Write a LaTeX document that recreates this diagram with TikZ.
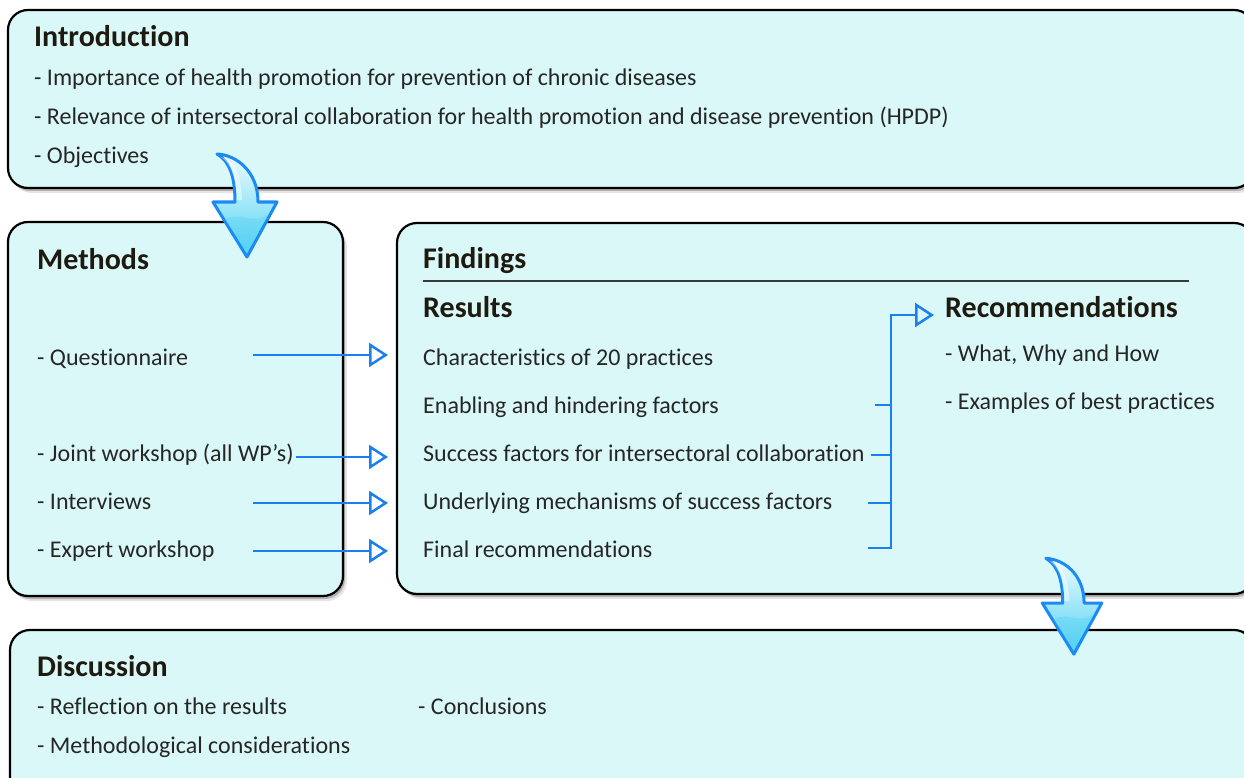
\documentclass[tikz,border=0pt]{standalone}
\usepackage{fontspec}
\setmainfont{Carlito}[Ligatures=NoCommon]
\usetikzlibrary{arrows.meta,shadows}

\definecolor{boxfill}{HTML}{DAF8F8}
\definecolor{flowblue}{HTML}{1C80EC}
\definecolor{arrowedge}{HTML}{1A8BF5}
\definecolor{arrowlight}{HTML}{EEFCFF}
\definecolor{arrowdeep}{HTML}{4FD0F2}
\definecolor{bodytext}{HTML}{262626}
\definecolor{headtext}{HTML}{1E1A10}
\definecolor{rulegray}{HTML}{3A3A3A}

\tikzset{
  % curved, shaded block arrow leading from one section to the next
  bendarrow/.pic={
    \path[draw=arrowedge, line width=3pt, line join=round,
          top color=arrowlight, bottom color=arrowdeep]
      (-28,-48) .. controls (-8,-47) and (13,-30) .. (13,0)
      -- (32,0) -- (2,55) -- (-32,0) -- (-10,0)
      .. controls (-10,-22) and (-14,-40) .. cycle;
    \path[fill=white, opacity=.45]
      (-24,-45) .. controls (-10,-42) and (-4,-28) .. (-3,-2)
      -- (-8,-2) .. controls (-9,-22) and (-13,-38) .. cycle;
    \path[fill=arrowdeep, opacity=.35]
      (-20,18) .. controls (-8,8) and (8,24) .. (24,12)
      -- (2,50) -- cycle;
  }
}

\begin{document}
\begin{tikzpicture}[x=1pt,y=-1pt,
  box/.style={rectangle, draw=black, line width=2.2pt, fill=boxfill,
    rounded corners=20pt, inner sep=0pt,
    drop shadow={shadow xshift=2pt,shadow yshift=-3pt,opacity=.22,fill=black},
    drop shadow={shadow xshift=4pt,shadow yshift=-5pt,opacity=.10,fill=black}},
  title/.style={anchor=base west, inner sep=0pt,
    font=\fontsize{30}{36}\selectfont\bfseries, text=headtext},
  item/.style={anchor=base west, inner sep=0pt,
    font=\fontsize{24}{29}\selectfont, text=bodytext},
  feed/.style={draw=flowblue, line width=2.5pt,
    -{Triangle[open, length=19pt, width=24pt, line width=2.5pt]}},
  brace/.style={draw=flowblue, line width=2.5pt},
]
\useasboundingbox (0,0) rectangle (1244,778);
\fill[white] (0,0) rectangle (1244,778);
\clip (0,0) rectangle (1244,778);

% section frames
\node[box, minimum width=1246, minimum height=178] (intro) at (631,99) {};
\node[box, minimum width=335, minimum height=374] (methods) at (175.5,409) {};
\node[box, minimum width=857, minimum height=371] (findings) at (825.5,408.5) {};
\node[box, minimum width=1244, minimum height=180] (discussion) at (632,720) {};

% introduction
\node[title] (t-intro) at (34,47) {Introduction};
\node[item] (i1) at (34,86) {- Importance of health promotion for prevention of chronic diseases};
\node[item] (i2) at (34,125) {- Relevance of intersectoral collaboration for health promotion and disease prevention (HPDP)};
\node[item] (i3) at (34,164) {- Objectives};

% methods
\node[title] (t-methods) at (37,269) {Methods};
\node[item] (m1) at (37,365) {- Questionnaire};
\node[item] (m2) at (37,461) {- Joint workshop (all WP’s)};
\node[item] (m3) at (37,509) {- Interviews};
\node[item] (m4) at (37,557) {- Expert workshop};

% findings
\node[title] (t-findings) at (423,268) {Findings};
\draw[rulegray, line width=2pt] (423,281) -- (1189,281);
\node[title] (t-results) at (423,317) {Results};
\node[item] (r1) at (423,365) {Characteristics of 20 practices};
\node[item] (r2) at (423,413) {Enabling and hindering factors};
\node[item] (r3) at (423,461) {Success factors for intersectoral collaboration};
\node[item] (r4) at (423,509) {Underlying mechanisms of success factors};
\node[item] (r5) at (423,557) {Final recommendations};

\node[title] (t-recs) at (945,317) {Recommendations};
\node[item] (c1) at (945,361) {- What, Why and How};
\node[item] (c2) at (945,409) {- Examples of best practices};

% discussion
\node[title] (t-disc) at (37,676) {Discussion};
\node[item] (d1) at (37,714) {- Reflection on the results};
\node[item] (d2) at (37,753) {- Methodological considerations};
\node[item] (d3) at (418,714) {- Conclusions};

% method -> result feeds
\coordinate (m1-out) at (253,355);  \coordinate (r1-in) at (388,355);
\coordinate (m2-out) at (296,457);  \coordinate (r3-in) at (388,457);
\coordinate (m3-out) at (253,503);  \coordinate (r4-in) at (388,503);
\coordinate (m4-out) at (253,551);  \coordinate (r5-in) at (388,551);
\draw[feed] (m1-out) -- (r1-in);
\draw[feed] (m2-out) -- (r3-in);
\draw[feed] (m3-out) -- (r4-in);
\draw[feed] (m4-out) -- (r5-in);

% results gathered into the recommendations
\coordinate (r2-tick) at (875,405);
\coordinate (r3-tick) at (871,455);
\coordinate (r4-tick) at (868,503);
\coordinate (r5-tick) at (868,548);
\coordinate (spine-top) at (891,315);
\coordinate (recs-in) at (934,315);
\draw[brace, -{Triangle[open, length=19pt, width=24pt, line width=2.5pt]}]
  (r5-tick) -- (891,548) -- (spine-top) -- (recs-in);
\draw[brace] (r2-tick) -- (891,405);
\draw[brace] (r3-tick) -- (891,455);
\draw[brace] (r4-tick) -- (891,503);

% flow between sections
\pic (flow-a) at (245,202) {bendarrow};
\pic[scale=.93] (flow-b) at (1072,603) {bendarrow};
\end{tikzpicture}
\end{document}
